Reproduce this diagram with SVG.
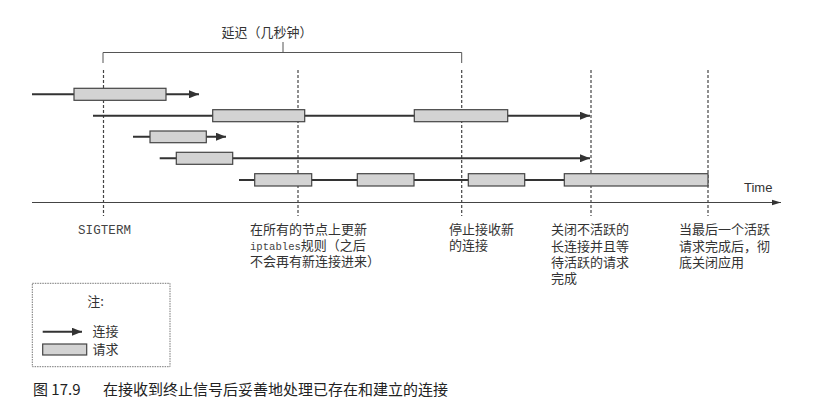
<svg xmlns="http://www.w3.org/2000/svg" width="818" height="403" viewBox="0 0 818 403">
<style>
.t{font-family:"Noto Sans CJK SC","Noto Sans",sans-serif;font-size:13px;fill:#333}
.m{font-family:"Liberation Mono",monospace;fill:#444}
.ln{stroke:#333;stroke-width:2;fill:none}
.dash{stroke:#444;stroke-width:1.2;stroke-dasharray:3,2;fill:none}
.req{fill:#d3d3d3;stroke:#444;stroke-width:1.2}
.thin{stroke:#555;stroke-width:1;fill:none}
</style>
<defs>
<marker id="ah" viewBox="0 0 10 8" refX="10" refY="4" markerWidth="5" markerHeight="4" orient="auto" markerUnits="strokeWidth">
<path d="M0,0 L10,4 L0,8 z" fill="#333"/>
</marker>
<marker id="ah2" viewBox="0 0 10 8" refX="10" refY="4" markerWidth="10" markerHeight="6" orient="auto" markerUnits="strokeWidth">
<path d="M0,1 L10,4 L0,7 z" fill="#333"/>
</marker>
</defs>
<rect width="818" height="403" fill="#fff"/>

<g id="delay">
<path class="thin" d="M103,63 V52.5 H461.7 V63 M283,52.5 V42"/>
<text class="t" x="267" y="36.5" text-anchor="middle">延迟（几秒钟）</text>
</g>

<g id="markers">
<line class="dash" x1="103.5" y1="70" x2="103.5" y2="216"/>
<line class="dash" x1="298" y1="70" x2="298" y2="216"/>
<line class="dash" x1="461.7" y1="70" x2="461.7" y2="216"/>
<line class="dash" x1="591" y1="70" x2="591" y2="216"/>
<line class="dash" x1="708" y1="70" x2="708" y2="216"/>
</g>

<g id="axis">
<line x1="32" y1="202.5" x2="781" y2="202.5" stroke="#444" stroke-width="1.2" marker-end="url(#ah2)"/>
<text class="t" x="744" y="192" font-family="Liberation Sans, Arial, sans-serif" style="font-family:'Liberation Sans',Arial,sans-serif">Time</text>
</g>

<g id="connectors">
<line class="ln" x1="32" y1="94.3" x2="199" y2="94.3" marker-end="url(#ah)"/>
<line class="ln" x1="93" y1="115.7" x2="590" y2="115.7" marker-end="url(#ah)"/>
<line class="ln" x1="133" y1="136.7" x2="226" y2="136.7" marker-end="url(#ah)"/>
<line class="ln" x1="159.7" y1="158.3" x2="590" y2="158.3" marker-end="url(#ah)"/>
<line class="ln" x1="239" y1="180" x2="708" y2="180"/>
</g>

<g id="requests">
<rect class="req" x="74" y="88.3" width="92" height="12"/>
<rect class="req" x="212.7" y="109.7" width="92" height="12"/>
<rect class="req" x="414.3" y="109.7" width="93.4" height="12"/>
<rect class="req" x="150" y="131" width="56.3" height="11.7"/>
<rect class="req" x="176.3" y="152.3" width="56.4" height="12"/>
<rect class="req" x="254.7" y="173.7" width="57" height="12.3"/>
<rect class="req" x="357.3" y="173.7" width="56.7" height="12.3"/>
<rect class="req" x="468.3" y="173.7" width="56.4" height="12.3"/>
<rect class="req" x="564.3" y="173.7" width="143.7" height="12.3"/>
</g>

<g id="label-sigterm">
<text class="m" x="78" y="233.5" font-size="12.5" textLength="53">SIGTERM</text>
</g>
<g id="label-iptables">
<text class="t" x="250" y="234">在所有的节点上更新</text>
<text class="t" x="250" y="250"><tspan class="m" font-size="10.6">iptables</tspan>规则（之后</text>
<text class="t" x="250" y="266">不会再有新连接进来）</text>
</g>
<g id="label-stop">
<text class="t" x="449" y="234">停止接收新</text>
<text class="t" x="449" y="250">的连接</text>
</g>
<g id="label-close">
<text class="t" x="551" y="234">关闭不活跃的</text>
<text class="t" x="551" y="250.5">长连接并且等</text>
<text class="t" x="551" y="266.5">待活跃的请求</text>
<text class="t" x="551" y="282.5">完成</text>
</g>
<g id="label-shutdown">
<text class="t" x="679" y="234">当最后一个活跃</text>
<text class="t" x="679" y="250.5">请求完成后，彻</text>
<text class="t" x="679" y="266.5">底关闭应用</text>
</g>

<g id="legend">
<rect x="32.3" y="283.3" width="137.7" height="83.4" fill="none" stroke="#777" stroke-width="1" stroke-dasharray="1.5,1"/>
<text class="t" x="95.5" y="306" text-anchor="middle">注:</text>
<line class="ln" x1="42.7" y1="331.7" x2="82" y2="331.7" stroke-width="1.6" marker-end="url(#ah)"/>
<text class="t" x="92.5" y="336">连接</text>
<rect class="req" x="42.7" y="344" width="44" height="11"/>
<text class="t" x="92.5" y="354">请求</text>
</g>

<g id="caption">
<text x="33" y="394.5" style="font-family:'Noto Sans CJK SC','Noto Sans',sans-serif;font-size:15px;fill:#222">图 17.9<tspan x="103">在接收到终止信号后妥善地处理已存在和建立的连接</tspan></text>
</g>
</svg>
